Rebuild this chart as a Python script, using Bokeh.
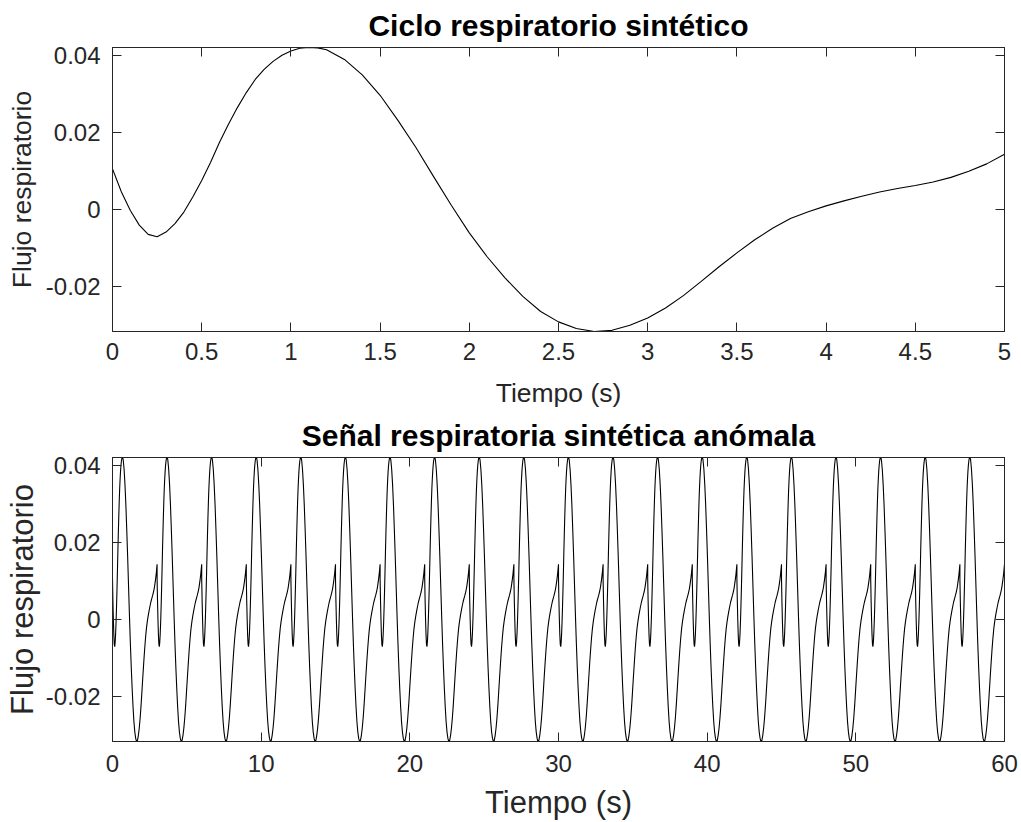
from bokeh.plotting import figure
from bokeh.models import LinearAxis, FixedTicker, Range1d
from bokeh.layouts import column
from bokeh.embed import file_html
from bokeh.resources import INLINE

# ---- data ----
# one synthetic breathing cycle (top panel), time in s
cycle_t = [0.0, 0.05, 0.1, 0.15, 0.2, 0.25, 0.3, 0.35, 0.4, 0.45, 0.5, 0.55,
           0.6, 0.65, 0.7, 0.75, 0.8, 0.85, 0.9, 0.95, 1.0, 1.05, 1.1, 1.15,
           1.2, 1.3, 1.4, 1.5, 1.6, 1.7, 1.8, 1.9, 2.0, 2.1, 2.2, 2.3, 2.4,
           2.5, 2.6, 2.7, 2.8, 2.9, 3.0, 3.1, 3.2, 3.3, 3.4, 3.5, 3.6, 3.7,
           3.8, 3.9, 4.0, 4.1, 4.2, 4.3, 4.4, 4.5, 4.6, 4.7, 4.8, 4.9, 5.0]
cycle_flow = [0.0106, 0.0046, -0.0002, -0.0040, -0.0064, -0.0070, -0.0058,
              -0.0036, -0.0006, 0.0033, 0.0076, 0.0123, 0.0175, 0.0222,
              0.0265, 0.0304, 0.0338, 0.0364, 0.0385, 0.0401, 0.0412, 0.0419,
              0.0421, 0.0420, 0.0415, 0.0390, 0.0350, 0.0297, 0.0232, 0.0162,
              0.0086, 0.0011, -0.0060, -0.0122, -0.0177, -0.0225, -0.0264,
              -0.0291, -0.0308, -0.0316, -0.0313, -0.0300, -0.0281, -0.0255,
              -0.0223, -0.0186, -0.0148, -0.0112, -0.0078, -0.0048, -0.0023,
              -0.0005, 0.0010, 0.0023, 0.0035, 0.0046, 0.0055, 0.0063, 0.0072,
              0.0084, 0.0100, 0.0119, 0.0144]
cycle_duration = 5.0        # s, top panel
anomalous_period = 3.0      # s, each repeated cycle in the bottom panel
n_cycles = 20

top_xticks = [0, 0.5, 1, 1.5, 2, 2.5, 3, 3.5, 4, 4.5, 5]
top_xtick_labels = ["0", "0.5", "1", "1.5", "2", "2.5", "3", "3.5", "4", "4.5", "5"]
bottom_xticks = [0, 10, 20, 30, 40, 50, 60]
bottom_xtick_labels = ["0", "10", "20", "30", "40", "50", "60"]
yticks = [-0.02, 0, 0.02, 0.04]
ytick_labels = ["-0.02", "0", "0.02", "0.04"]

title_top = "Ciclo respiratorio sintético"
title_bottom = "Señal respiratoria sintética anómala"
xlabel = "Tiempo (s)"
ylabel = "Flujo respiratorio"

# bottom signal: the cycle repeated, compressed to the anomalous period
scale = anomalous_period / cycle_duration
sig_t, sig_f = [], []
for k in range(n_cycles):
    for t, f in zip(cycle_t, cycle_flow):
        sig_t.append(k * anomalous_period + t * scale)
        sig_f.append(f)

FONT = "Liberation Sans"
AX = "#262626"


def make(title, xs, ys, xticks, xlabels, xr, height, mb_top, mb_bottom,
         label_size, xstand_major, xstand_label, ystand_label):
    p = figure(width=1021, height=height, output_backend="svg",
               toolbar_location=None,
               x_range=Range1d(*xr),
               y_range=Range1d(min(cycle_flow), max(cycle_flow)),
               min_border_left=112, min_border_right=17,
               min_border_top=mb_top, min_border_bottom=mb_bottom)
    p.title.text = title
    p.title.align = "center"
    p.title.text_font = FONT
    p.title.text_font_size = "30px"
    p.title.text_font_style = "bold"
    p.title.text_color = "black"
    p.title.standoff = 12
    p.xgrid.visible = False
    p.ygrid.visible = False
    p.outline_line_color = AX
    p.outline_line_alpha = 1.0
    p.outline_line_width = 1
    p.background_fill_color = "white"
    p.border_fill_color = "white"

    p.xaxis.ticker = FixedTicker(ticks=xticks)
    p.xaxis.major_label_overrides = {float(t): l for t, l in zip(xticks, xlabels)}
    p.yaxis.ticker = FixedTicker(ticks=yticks)
    p.yaxis.major_label_overrides = {float(t): l for t, l in zip(yticks, ytick_labels)}
    p.xaxis.axis_label = xlabel
    p.yaxis.axis_label = ylabel
    for ax in (p.xaxis, p.yaxis):
        ax.major_tick_in = 9
        ax.major_tick_out = 0
        ax.minor_tick_line_color = None
        ax.major_tick_line_color = AX
        ax.axis_line_color = AX
        ax.major_label_text_font = FONT
        ax.major_label_text_font_size = "24px"
        ax.major_label_text_color = AX
        ax.axis_label_text_font = FONT
        ax.axis_label_text_font_size = label_size
        ax.axis_label_text_font_style = "normal"
        ax.axis_label_text_color = AX
    p.xaxis.major_label_standoff = xstand_major
    p.xaxis.axis_label_standoff = xstand_label
    p.yaxis.major_label_standoff = 12
    p.yaxis.axis_label_standoff = ystand_label

    # mirrored ticks on top and right (box on), without labels
    for loc, tk in (("above", xticks), ("right", yticks)):
        ax = LinearAxis(ticker=FixedTicker(ticks=tk),
                        major_tick_in=9, major_tick_out=0,
                        major_tick_line_color=AX,
                        minor_tick_line_color=None,
                        axis_line_color=AX,
                        major_label_text_color=None,
                        major_label_text_font_size="1px",
                        major_label_standoff=0)
        p.add_layout(ax, loc)

    p.line(xs, ys, line_color="black", line_width=1.1)
    return p


p1 = make(title_top, cycle_t, cycle_flow, top_xticks, top_xtick_labels,
          (0, 5), 410, 47, 78, "26.5px", 11, 15, 6)
p2 = make(title_bottom, sig_t, sig_f, bottom_xticks, bottom_xtick_labels,
          (0, 60), 412, 47, 80, "31px", 13, 10, 3)

layout = column(p1, p2, spacing=0)
open("out.html", "w").write(file_html(layout, INLINE))
